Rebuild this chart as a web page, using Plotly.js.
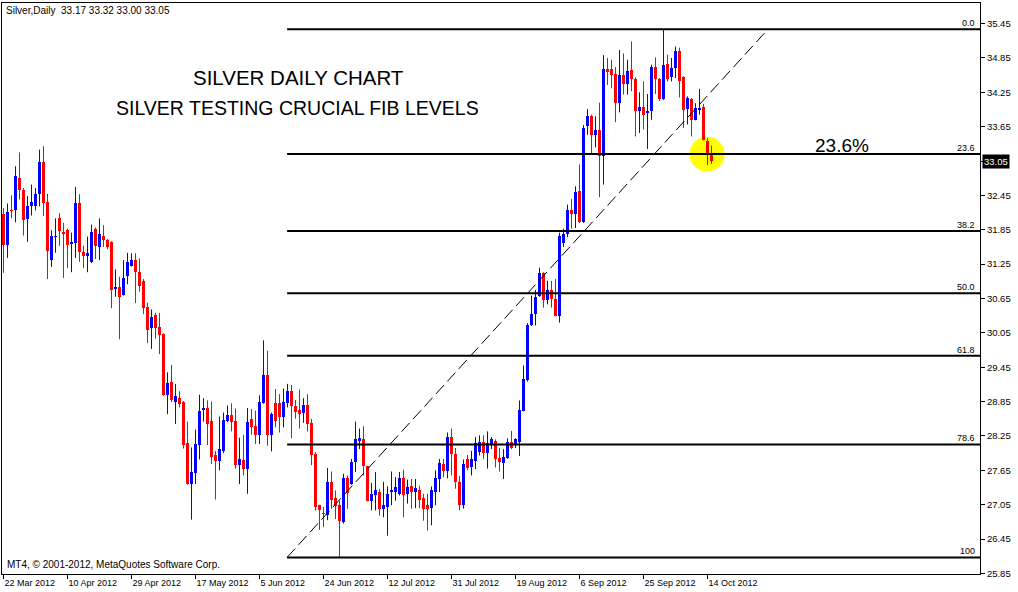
<!DOCTYPE html>
<html>
<head>
<meta charset="utf-8">
<script src="https://cdn.plot.ly/plotly-3.0.1.min.js"></script>
<style>html,body{margin:0;padding:0;background:#fff;}#chart{width:1018px;height:592px;}</style>
</head>
<body>
<div id="chart"></div>
<script>
// ---- data (Silver, Daily bars, index 0 = 22 Mar 2012) ----
const opens = [32.12,31.58,32.20,32.19,32.76,32.55,32.03,32.26,32.26,32.48,33.04,32.34,31.33,31.72,32.05,31.81,31.84,31.61,31.62,32.31,
31.47,31.39,31.29,31.86,31.55,31.75,31.68,31.64,30.82,30.85,30.71,31.04,31.22,31.33,31.12,30.95,30.51,30.13,30.36,30.16,
30.03,28.96,29.19,28.85,28.91,28.85,28.13,27.41,27.61,28.09,28.71,28.74,28.52,27.91,27.82,27.99,28.52,28.62,28.52,27.74,
27.83,27.68,28.55,28.42,28.27,28.82,29.31,28.27,28.82,28.82,28.59,28.82,29.04,28.78,28.71,28.65,28.79,28.48,27.94,27.04,
26.91,26.87,27.45,27.16,27.05,26.75,27.52,27.41,27.80,28.16,28.19,27.72,27.12,27.22,27.28,26.98,27.01,27.27,27.27,27.24,
27.51,27.24,27.37,27.27,27.31,27.16,27.04,26.99,27.28,27.50,27.76,27.63,28.24,27.94,27.44,27.05,27.84,27.70,27.82,27.97,
28.15,27.95,28.09,28.17,27.86,27.78,27.86,28.15,28.09,28.15,28.69,29.23,30.18,30.38,30.69,31.09,30.63,30.80,30.65,30.35,
31.62,31.78,32.19,32.12,32.52,31.98,33.66,33.83,33.51,33.59,33.13,34.65,34.65,34.57,34.07,34.56,34.40,34.64,34.48,33.92,
33.99,33.89,33.92,34.70,34.49,34.14,34.74,34.51,34.67,34.97,34.51,33.96,34.14,33.77,33.95,34.00,33.40,33.17];
const highs = [32.23,32.31,32.45,32.96,33.20,32.58,32.44,32.64,32.58,33.25,33.31,32.48,31.84,32.05,32.14,31.97,31.87,31.80,32.60,32.47,
31.57,31.73,31.94,31.89,32.05,31.93,31.69,31.65,31.16,31.03,31.32,31.45,31.44,31.44,31.35,30.99,30.58,30.46,30.40,30.40,
30.04,29.36,29.49,29.16,29.03,28.86,28.50,28.05,28.36,28.97,28.91,28.87,28.85,27.99,28.59,28.66,28.78,28.82,28.73,28.22,
28.27,28.74,28.72,28.69,28.96,29.92,29.74,28.66,29.07,28.98,29.08,29.16,29.14,28.88,29.06,28.91,28.98,28.55,27.97,27.05,
27.01,27.69,27.63,27.30,27.12,27.59,27.56,27.85,28.50,28.38,28.42,27.73,27.43,27.62,27.33,27.45,27.37,27.63,27.53,27.62,
27.66,27.49,27.50,27.50,27.38,27.24,27.24,27.37,27.65,27.85,27.85,28.31,28.38,28.04,27.55,27.84,27.92,27.99,28.23,28.26,
28.26,28.33,28.23,28.19,28.04,28.02,28.21,28.34,28.21,28.87,29.48,30.22,30.70,30.80,31.19,31.11,30.96,30.96,30.99,31.80,
31.87,32.29,32.39,32.61,32.99,33.68,33.96,33.86,33.83,34.07,34.90,34.85,34.82,34.69,34.99,34.93,34.82,35.14,34.51,34.25,
34.44,34.22,34.73,34.86,34.50,35.35,34.91,34.85,35.05,35.03,34.53,34.18,34.15,34.06,34.31,34.05,33.45,33.32];
const lows = [31.10,31.36,32.05,31.98,32.38,31.75,31.64,32.10,32.19,32.26,32.09,30.99,31.20,31.45,31.57,31.01,31.18,31.11,31.36,31.29,
31.18,31.11,31.27,31.34,31.32,31.55,31.51,30.48,30.68,29.94,30.70,30.90,31.21,30.57,30.77,30.38,29.87,29.77,29.95,29.68,
28.95,28.63,28.84,28.46,28.75,28.03,27.40,26.79,27.41,27.84,28.50,28.09,27.76,27.14,27.65,27.95,28.49,28.33,27.68,27.41,
27.56,27.24,28.27,28.11,28.11,28.81,28.08,27.98,28.40,28.31,28.40,28.75,28.21,28.55,28.38,28.48,28.33,27.74,26.95,26.61,
26.66,26.78,26.98,26.80,26.13,26.72,26.98,27.40,27.62,28.02,27.56,27.11,26.95,26.95,26.86,26.83,26.51,27.04,27.12,27.21,
26.83,27.07,26.98,26.99,26.99,26.77,26.60,26.69,27.04,27.27,27.53,27.51,27.56,27.33,26.95,26.98,27.65,27.56,27.67,27.91,
27.85,27.68,28.02,27.70,27.63,27.50,27.85,28.02,28.04,27.90,28.68,29.20,30.17,30.18,30.68,30.49,30.55,30.49,30.34,30.23,
31.55,31.72,31.87,31.88,31.97,31.97,33.51,33.19,33.29,32.42,32.64,34.38,34.32,33.73,33.90,34.21,34.21,34.27,33.48,33.54,
33.60,33.26,33.77,34.22,34.10,34.12,34.44,34.44,34.50,34.16,33.63,33.69,33.48,33.76,33.86,33.41,32.98,33.00];
const closes = [31.58,32.16,32.18,32.79,32.54,32.02,32.27,32.33,32.47,33.04,32.32,31.48,31.75,31.75,31.83,31.77,31.59,31.64,32.31,31.46,
31.39,31.45,31.82,31.57,31.77,31.67,31.55,30.80,30.85,30.68,31.00,31.29,31.33,31.11,30.87,30.48,30.10,30.32,30.13,30.01,
28.96,29.17,28.87,28.94,28.81,28.09,27.41,27.62,28.11,28.69,28.74,28.46,27.88,27.82,28.02,28.53,28.62,28.50,27.74,27.85,
27.68,28.50,28.41,28.27,28.85,29.31,28.27,28.63,28.52,28.59,28.85,29.04,28.77,28.67,28.63,28.79,28.46,27.92,27.01,26.95,
26.88,27.45,27.14,27.03,26.76,27.51,27.25,27.80,28.19,28.21,27.72,27.12,27.24,27.30,26.98,27.04,27.24,27.30,27.36,27.51,
27.22,27.36,27.28,27.34,27.14,26.98,26.98,27.30,27.51,27.78,27.63,28.23,27.94,27.44,27.05,27.76,27.69,27.84,28.13,28.15,
27.95,28.13,28.19,27.84,27.80,27.88,28.14,28.04,28.19,28.70,29.24,30.18,30.38,30.68,31.09,30.63,30.80,30.64,30.35,31.75,
31.77,32.19,32.12,32.51,31.98,33.63,33.83,33.51,33.59,33.13,34.65,34.61,34.56,34.07,34.56,34.40,34.63,34.48,33.92,34.00,
33.86,33.93,34.70,34.49,34.14,34.73,34.49,34.68,34.97,34.44,33.95,34.15,33.77,33.98,33.98,33.42,33.16,33.05];

const dateTickBars = [0,16,32,48,64,80,96,112,128,144,160,176];
const dateTickLabels = ['22 Mar 2012','10 Apr 2012','29 Apr 2012','17 May 2012','5 Jun 2012','24 Jun 2012',
  '12 Jul 2012','31 Jul 2012','19 Aug 2012','6 Sep 2012','25 Sep 2012','14 Oct 2012'];
const priceTicks = [25.85,26.45,27.05,27.65,28.25,28.85,29.45,30.05,30.65,31.25,31.85,32.45,33.05,33.65,34.25,34.85,35.45];

// Fibonacci retracement anchors (bar index, price)
const fibAnchorBars = [70.9, 191.1];
const fibLowPrice = 26.13;
const fibHighPrice = 35.35;
const fibRatios = [0, 0.236, 0.382, 0.5, 0.618, 0.786, 1];
const fibLabels = ['0.0','23.6','38.2','50.0','61.8','78.6','100'];

// highlight marker around the 23.6% test
const highlightBar = 175.9;
const highlightPrice = 33.17;

// ---- build traces ----
const n = closes.length;
const UP = '#0000ff', DN = '#ff0000';
const minBody = 0.02;
function build(isUp){
  const bx=[], by=[], bb=[], wx=[], wy=[];
  for (let i=0;i<n;i++){
    const up = closes[i] >= opens[i];
    if (up !== isUp) continue;
    const lo = Math.min(opens[i], closes[i]), hi = Math.max(opens[i], closes[i]);
    bx.push(i); bb.push(lo); by.push(Math.max(hi-lo, minBody));
    wx.push(i,i,null); wy.push(lows[i],highs[i],null);
  }
  const col = isUp ? UP : DN;
  return [
    {type:'scatter', mode:'lines', x:wx, y:wy, line:{color:col,width:1}, hoverinfo:'skip', connectgaps:false, showlegend:false},
    {type:'bar', x:bx, y:by, base:bb, width:0.75, marker:{color:col, line:{width:0}}, hoverinfo:'skip', showlegend:false}
  ];
}
const traces = [...build(true), ...build(false)];

const xMin = -0.375, xMax = 244.125;
const shapes = [];
const annotations = [];
const fontA = 'Liberation Sans, Arial, sans-serif';

// yellow highlight circle (below candles)
shapes.push({type:'circle', layer:'below', xref:'x', yref:'y', xsizemode:'pixel', ysizemode:'pixel',
  xanchor:highlightBar, yanchor:highlightPrice, x0:-17.5, x1:17.5, y0:-17.5, y1:17.5,
  fillcolor:'#ffff00', line:{width:0}});

// fib lines
fibRatios.forEach((r,k)=>{
  const p = fibHighPrice - r*(fibHighPrice - fibLowPrice);
  shapes.push({type:'line', layer:'above', xref:'x', yref:'y', x0:fibAnchorBars[0], x1:xMax, y0:p, y1:p,
    line:{color:'#000', width:2}});
  annotations.push({xref:'paper', yref:'y', x:0.997, y:p, xanchor:'right', yanchor:'bottom', yshift:-1,
    text:fibLabels[k], showarrow:false, font:{family:fontA, size:9, color:'#000'}});
});
// dashed trend line between anchors
shapes.push({type:'line', layer:'above', xref:'x', yref:'y', x0:fibAnchorBars[0], y0:fibLowPrice, x1:fibAnchorBars[1], y1:fibHighPrice,
  line:{color:'#000', width:1, dash:'12px,5px'}});

// texts
annotations.push({xref:'paper', yref:'paper', x:0.3027, y:0.8687, xanchor:'center', yanchor:'middle', showarrow:false,
  text:'SILVER DAILY CHART', font:{family:fontA, size:20.5, color:'#000'}});
annotations.push({xref:'paper', yref:'paper', x:0.3017, y:0.816, xanchor:'center', yanchor:'middle', showarrow:false,
  text:'SILVER TESTING CRUCIAL FIB LEVELS', font:{family:fontA, size:19.5, color:'#000'}});
annotations.push({xref:'paper', yref:'paper', x:0.859, y:0.7513, xanchor:'center', yanchor:'middle', showarrow:false,
  text:'23.6%', font:{family:fontA, size:19, color:'#000'}});
const last = n-1;
annotations.push({xref:'paper', yref:'paper', x:0.002, y:0.986, xanchor:'left', yanchor:'middle', showarrow:false,
  text:'Silver,Daily  ' + [opens[last],highs[last],lows[last],closes[last]].map(v=>v.toFixed(2)).join(' '),
  font:{family:fontA, size:10, color:'#000'}});
annotations.push({xref:'paper', yref:'paper', x:0.003, y:0.016, xanchor:'left', yanchor:'middle', showarrow:false,
  text:'MT4, © 2001-2012, MetaQuotes Software Corp.', font:{family:fontA, size:10, color:'#000'}});
// current price tag (replaces the tick label at that level)
annotations.push({xref:'paper', yref:'y', x:1, y:closes[last], xanchor:'left', yanchor:'middle', xshift:2, showarrow:false,
  text:closes[last].toFixed(2), bgcolor:'#000', borderpad:1, font:{family:fontA, size:9.5, color:'#fff'}});

const lastTxt = closes[last].toFixed(2);
const layout = {
  width:1018, height:592,
  margin:{l:2, r:38, t:3, b:18, pad:0},
  paper_bgcolor:'#fff', plot_bgcolor:'#fff',
  showlegend:false, barmode:'overlay', bargap:0,
  xaxis:{range:[xMin,xMax], showgrid:false, zeroline:false, showline:true, mirror:true, linecolor:'#000', linewidth:1,
    ticks:'outside', ticklen:4, tickcolor:'#000', tickvals:dateTickBars, ticktext:dateTickLabels,
    ticklabelposition:'outside right', tickfont:{family:fontA, size:9, color:'#000'}, fixedrange:true},
  yaxis:{range:[25.84,35.81], side:'right', showgrid:false, zeroline:false, showline:true, mirror:true, linecolor:'#000', linewidth:1,
    ticks:'outside', ticklen:4, tickcolor:'#000', tickvals:priceTicks,
    ticktext:priceTicks.map(v=>{const t=v.toFixed(2); return t===lastTxt ? '' : t;}),
    tickfont:{family:fontA, size:9.5, color:'#000'}, fixedrange:true},
  shapes:shapes, annotations:annotations
};
Plotly.newPlot('chart', traces, layout, {staticPlot:true, displayModeBar:false});
</script>
</body>
</html>
